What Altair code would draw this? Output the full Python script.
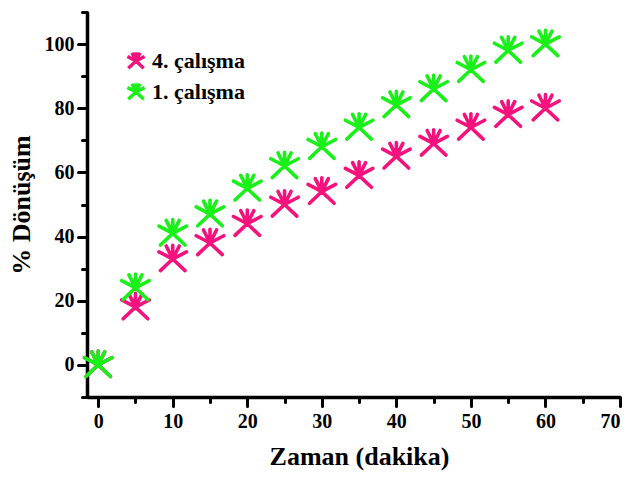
import altair as alt
import pandas as pd

# Reaction conversion over time for two runs
zaman = [0, 5, 10, 15, 20, 25, 30, 35, 40, 45, 50, 55, 60]
calisma_4 = [0, 18, 33, 38, 44, 50, 54, 59, 65, 69, 74, 78, 80]
calisma_1 = [0, 24, 41, 47, 55, 62, 68, 74, 81, 86, 92, 98, 100]
seri_adlari = ["4. çalışma", "1. çalışma"]
renkler = ["#F5127C", "#18F018"]

x_major = [0, 10, 20, 30, 40, 50, 60, 70]
x_minor = [5, 15, 25, 35, 45, 55, 65]
y_major = [0, 20, 40, 60, 80, 100]
y_minor = [-10, 10, 30, 50, 70, 90, 110]

rows = []
for ad, seri in zip(seri_adlari, [calisma_4, calisma_1]):
    for t, v in zip(zaman, seri):
        rows.append({"Zaman": t, "Donusum": v, "Seri": ad})
df = pd.DataFrame(rows)

# starburst marker: spokes from the centre, denser towards the top
STAR = ("M0,0L-0.85,0.8M0,0L0.85,0.8"
        "M0,0L-0.95,-0.5M0,0L0.95,-0.5"
        "M0,0L-0.45,-0.9M0,0L0.45,-0.9M0,0L0,-0.95"
        "M-0.22,-0.22L0,-0.5L0.22,-0.22")

FONT = "Liberation Serif"
X_DOM = [-1.5, 70]
Y_DOM = [-10, 110]

base = alt.Chart(df)

points = base.mark_point(
    shape=STAR, size=840, filled=False, strokeWidth=3.6, strokeCap="round",
    strokeJoin="round", opacity=1,
).encode(
    x=alt.X("Zaman:Q", scale=alt.Scale(domain=X_DOM, nice=False, zero=False),
            axis=alt.Axis(values=x_major, title="Zaman (dakika)", orient="bottom",
                          tickSize=9, labelPadding=5, titlePadding=12, titleX=272)),
    y=alt.Y("Donusum:Q", scale=alt.Scale(domain=Y_DOM, nice=False, zero=False),
            axis=alt.Axis(values=y_major, title="% Dönüşüm", orient="left",
                          tickSize=9, labelPadding=4, titlePadding=10)),
    color=alt.Color("Seri:N",
                    scale=alt.Scale(domain=seri_adlari, range=renkler),
                    legend=alt.Legend(title=None, orient="none", legendX=38, legendY=38,
                                      symbolType=STAR, symbolSize=330,
                                      symbolStrokeWidth=3.4, symbolFillColor="transparent",
                                      labelFont=FONT, labelFontSize=22,
                                      labelFontWeight="bold", labelColor="black",
                                      rowPadding=0, labelOffset=5)),
)

minor_axes = base.mark_point(opacity=0).encode(
    x=alt.X("Zaman:Q", scale=alt.Scale(domain=X_DOM, nice=False, zero=False),
            axis=alt.Axis(values=x_minor, labels=False, title=None, orient="bottom",
                          tickSize=5, domain=False)),
    y=alt.Y("Donusum:Q", scale=alt.Scale(domain=Y_DOM, nice=False, zero=False),
            axis=alt.Axis(values=y_minor, labels=False, title=None, orient="left",
                          tickSize=5, domain=False)),
)

chart = alt.layer(minor_axes, points).resolve_scale(
    x="independent", y="independent"
).properties(
    width=533, height=385,
    autosize=alt.AutoSizeParams(type="none"),
    padding={"left": 87, "top": 12, "right": 10, "bottom": 86},
).configure_view(stroke=None).configure_axis(
    domainColor="black", domainWidth=3.5, tickColor="black", tickWidth=3,
    tickCap="round", grid=False,
    labelFont=FONT, labelFontSize=20, labelFontWeight="bold", labelColor="black",
    titleFont=FONT, titleFontSize=26, titleFontWeight="bold", titleColor="black",
)

chart.save("out.html", embed_options={"renderer": "svg", "actions": False})
